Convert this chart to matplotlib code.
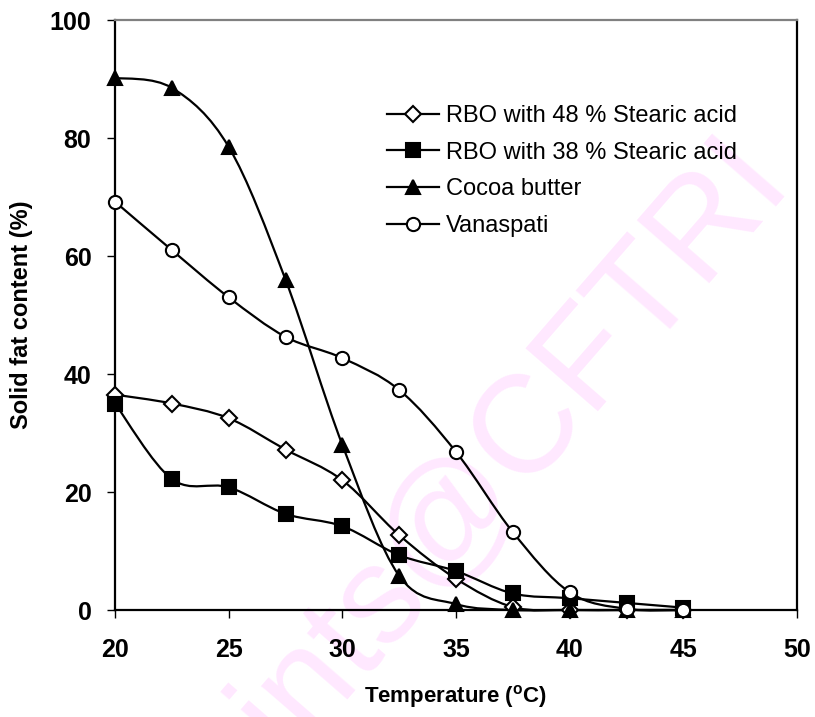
import matplotlib
matplotlib.use('Agg')
import matplotlib.pyplot as plt
from matplotlib.path import Path
from matplotlib.patches import PathPatch
from matplotlib.lines import Line2D
import numpy as np

plt.rcParams['font.family'] = ['Liberation Sans', 'DejaVu Sans']
plt.rcParams['mathtext.fontset'] = 'custom'
plt.rcParams['mathtext.rm'] = 'Liberation Sans:bold'
plt.rcParams['mathtext.bf'] = 'Liberation Sans:bold'

# temperature (C)
temp = [20, 22.5, 25, 27.5, 30, 32.5, 35, 37.5, 40, 42.5, 45]

# solid fat content (%)
rbo48 = [36.5, 35.0, 32.5, 27.2, 22.0, 12.7, 5.3, 0.5, 0.0, 0.0, 0.0]
rbo38 = [35.0, 22.2, 20.8, 16.3, 14.2, 9.3, 6.6, 2.8, 2.0, 1.2, 0.4]
cocoa = [90.2, 88.5, 78.5, 56.0, 28.0, 5.8, 1.0, 0.0, 0.0, 0.0, 0.0]
vanaspati = [69.2, 61.0, 53.0, 46.3, 42.7, 37.3, 26.8, 13.2, 3.0, 0.2, 0.0]

labels = ['RBO with 48 % Stearic acid', 'RBO with 38 % Stearic acid',
          'Cocoa butter', 'Vanaspati']


def smooth_path(x, y):
    # excel-like smoothed line: cubic bezier through every point
    x = np.asarray(x, float)
    y = np.asarray(y, float)
    n = len(x)
    verts = [(x[0], y[0])]
    codes = [Path.MOVETO]
    for i in range(n - 1):
        x0, y0 = (x[i - 1], y[i - 1]) if i > 0 else (x[i], y[i])
        x3, y3 = (x[i + 2], y[i + 2]) if i + 2 < n else (x[i + 1], y[i + 1])
        c1 = (x[i] + (x[i + 1] - x0) / 6, y[i] + (y[i + 1] - y0) / 6)
        c2 = (x[i + 1] - (x3 - x[i]) / 6, y[i + 1] - (y3 - y[i]) / 6)
        verts += [c1, c2, (x[i + 1], y[i + 1])]
        codes += [Path.CURVE4] * 3
    return Path(verts, codes)


fig = plt.figure(figsize=(8.15, 7.17), dpi=100)
ax = fig.add_axes([115 / 815, 1 - 610 / 717, 682 / 815, 590 / 717])
ax.set_zorder(1)
ax.patch.set_alpha(0)

# watermark
fig.text(472 / 815, 1 - 492 / 717, 'prints@CFTRI', color='#ffe8ff',
         fontsize=100, rotation=49, rotation_mode='anchor',
         ha='center', va='center', zorder=0)

series = [rbo48, rbo38, cocoa, vanaspati]
markers = ['D', 's', '^', 'o']
faces = ['white', 'black', 'black', 'white']
msizes = [8.5, 10, 10.5, 9.5]

handles = []
for vals, m, fc, ms, lab in zip(series, markers, faces, msizes, labels):
    ax.add_patch(PathPatch(smooth_path(temp, vals), fill=False,
                           edgecolor='black', lw=1.6, zorder=2,
                           clip_on=False))
    ax.plot(temp, vals, linestyle='none', marker=m, markersize=ms,
            markerfacecolor=fc, markeredgecolor='black',
            markeredgewidth=1.5, zorder=3, clip_on=False)
    handles.append(Line2D([], [], color='black', lw=1.6, marker=m,
                          markersize=ms, markerfacecolor=fc,
                          markeredgecolor='black', markeredgewidth=1.5))

ax.set_xlim(20, 50)
ax.set_ylim(0, 100)
ax.set_xticks([20, 25, 30, 35, 40, 45, 50])
ax.set_yticks([0, 20, 40, 60, 80, 100])
ax.tick_params(direction='out', length=6, width=1, labelsize=18, pad=11)
ax.tick_params(axis='x', pad=14)
for t in ax.get_xticklabels() + ax.get_yticklabels():
    t.set_fontweight('bold')

ax.spines['left'].set_linewidth(1.6)
ax.spines['bottom'].set_linewidth(1.6)
ax.spines['right'].set_linewidth(1.6)
ax.spines['top'].set_color('#808080')
ax.spines['top'].set_linewidth(1.6)

ax.set_xlabel('Temperature ($^{\\mathrm{o}}$C)', fontsize=16, fontweight='bold')
ax.xaxis.label.set_va('center')
ax.xaxis.set_label_coords(0.5, (610 - 697) / 590)
ax.set_ylabel('Solid fat content (%)', fontsize=17, fontweight='bold')
ax.yaxis.label.set_va('center')
ax.yaxis.set_label_coords((22 - 115) / 682, 0.5)

ax.legend(handles, labels, loc='upper left', frameon=False, fontsize=17,
          bbox_to_anchor=(387 / 815, 1 - 105 / 717), bbox_transform=fig.transFigure,
          borderpad=0, borderaxespad=0, handlelength=2.2, handletextpad=0.3,
          labelspacing=0.62)

fig.savefig('out.png', dpi=100)
